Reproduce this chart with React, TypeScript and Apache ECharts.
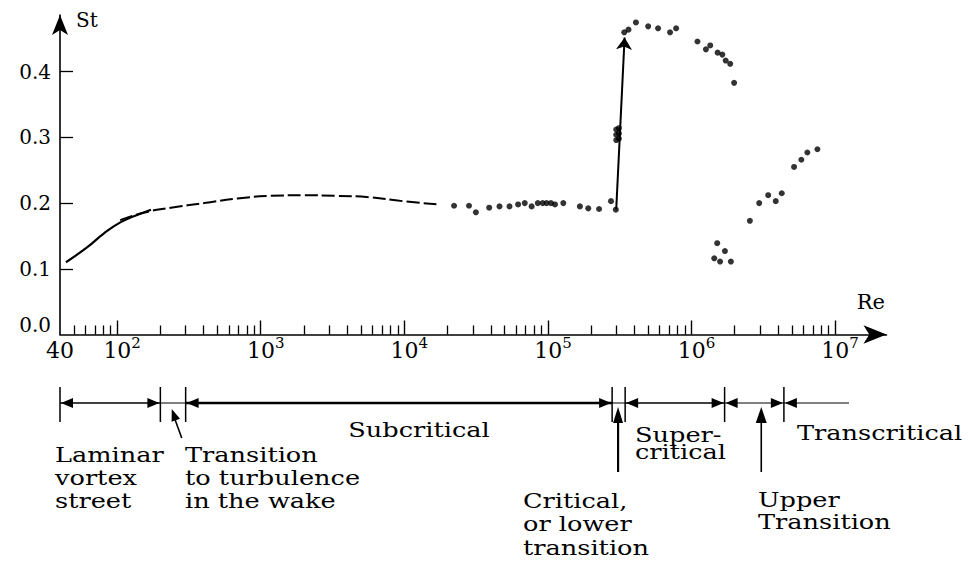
import React, { useEffect, useRef } from 'react';
import * as echarts from 'echarts';

// ---- data (Re, St) ----
const laminarCurve: [number, number][] = [
  [44, 0.11], [62, 0.133], [81, 0.154], [106, 0.171], [135, 0.181], [172, 0.19],
];
const subcriticalCurve: [number, number][] = [
  [105, 0.174], [150, 0.185], [237, 0.193], [404, 0.2], [689, 0.207], [1175, 0.211],
  [2000, 0.212], [3330, 0.211], [5690, 0.209], [9700, 0.203], [17500, 0.198],
];
const subcriticalPoints: [number, number][] = [
  [2.22e4, 0.196], [2.82e4, 0.196], [3.15e4, 0.186], [3.9e4, 0.193], [4.6e4, 0.195],
  [5.4e4, 0.195], [6.2e4, 0.198], [6.9e4, 0.2], [7.7e4, 0.195], [8.5e4, 0.2],
  [9.2e4, 0.2], [9.8e4, 0.2], [1.05e5, 0.2], [1.12e5, 0.198], [1.28e5, 0.2],
  [1.67e5, 0.195], [1.91e5, 0.192], [2.27e5, 0.191], [2.75e5, 0.203], [2.97e5, 0.19],
];
const criticalPoints: [number, number][] = [
  [2.99e5, 0.296], [2.99e5, 0.304], [2.99e5, 0.312], [3.12e5, 0.298], [3.12e5, 0.306], [3.12e5, 0.314],
];
const supercriticalPoints: [number, number][] = [
  [3.4e5, 0.46], [3.64e5, 0.464], [4.1e5, 0.475], [4.99e5, 0.469], [5.85e5, 0.466],
  [7.09e5, 0.46], [7.81e5, 0.466], [1.1e6, 0.446], [1.26e6, 0.434], [1.35e6, 0.44],
  [1.52e6, 0.429], [1.64e6, 0.426], [1.73e6, 0.417], [1.86e6, 0.412], [1.98e6, 0.383],
];
const upperTransitionPoints: [number, number][] = [
  [1.51e6, 0.139], [1.71e6, 0.127], [1.44e6, 0.116], [1.58e6, 0.111], [1.88e6, 0.111],
];
const transcriticalPoints: [number, number][] = [
  [2.55e6, 0.173], [2.96e6, 0.2], [3.42e6, 0.212], [3.86e6, 0.203], [4.25e6, 0.215],
  [5.18e6, 0.255], [5.82e6, 0.266], [6.41e6, 0.277], [7.53e6, 0.282],
];
const jumpArrow: [number, number][] = [[2.99e5, 0.19], [3.42e5, 0.452]];

// ---- axes ----
const xLabelValues = [40, 1e2, 1e3, 1e4, 1e5, 1e6, 1e7];
const xMajorTicks = [1e2, 1e3, 1e4, 1e5, 1e6, 1e7];
const xMinorMultipliers = [2, 3, 4, 5, 6, 7, 8, 9];
const xMinorTicks: number[] = [50, 60, 70, 80, 90];
[1e2, 1e3, 1e4, 1e5, 1e6].forEach((d) => xMinorMultipliers.forEach((m) => xMinorTicks.push(m * d)));
const yTickValues = [0.1, 0.2, 0.3, 0.4];
const yLabelValues = [0, 0.1, 0.2, 0.3, 0.4];

// ---- regime annotation (Re boundaries) ----
const regimeBounds = [40, 200, 300, 2.8e5, 3.45e5, 1.7e6, 4.4e6];
const regimeLineEnd = 1.25e7;

const FONT = 'DejaVu Serif';
const INK = '#000';

export default function App() {
  const ref = useRef<HTMLDivElement>(null);
  useEffect(() => {
    const chart = echarts.init(ref.current!, null, { renderer: 'svg' });
    const xCommon = { type: 'log', logBase: 10, min: 40, max: 2.28e7, position: 'bottom', gridIndex: 0 };
    chart.setOption({
      animation: false,
      backgroundColor: '#fff',
      grid: { left: 60, right: 81.5, top: 15, bottom: 226.5 },
      xAxis: [
        {
          ...xCommon,
          name: 'Re',
          nameLocation: 'end',
          nameGap: -1.5,
          nameTextStyle: { fontFamily: FONT, fontSize: 21, color: INK, align: 'right', verticalAlign: 'bottom', padding: [0, 0, 22, 0] },
          axisLine: { show: true, onZero: false, lineStyle: { color: INK, width: 1.6 }, symbol: ['none', 'arrow'], symbolSize: [14, 23] },
          axisTick: { show: true, inside: true, length: 9, customValues: xMinorTicks, lineStyle: { color: INK, width: 1.3 } },
          axisLabel: {
            show: true,
            customValues: xLabelValues,
            margin: 1,
            color: INK,
            fontFamily: FONT,
            fontSize: 22,
            formatter: (v: number) => {
              if (v < 50) return '{n|40}';
              const n = Math.round(Math.log10(v));
              return `{b|10}{sup|${n}}`;
            },
            rich: {
              n: { fontSize: 22, fontFamily: FONT, color: INK, lineHeight: 30 },
              b: { fontSize: 22, fontFamily: FONT, color: INK, lineHeight: 30, padding: [0, 0, 0, 10] },
              sup: { fontSize: 15, fontFamily: FONT, color: INK, lineHeight: 15, verticalAlign: 'top' },
            },
          },
          splitLine: { show: false },
        },
        {
          ...xCommon,
          axisLine: { show: false },
          axisTick: { show: true, inside: true, length: 14, customValues: xMajorTicks, lineStyle: { color: INK, width: 1.4 } },
          axisLabel: { show: false },
          splitLine: { show: false },
        },
      ],
      yAxis: {
        type: 'value',
        min: 0,
        max: 0.4863,
        name: 'St',
        nameLocation: 'end',
        nameGap: -5,
        nameTextStyle: { fontFamily: FONT, fontSize: 20, color: INK, align: 'left', verticalAlign: 'middle', padding: [0, 0, 0, 16] },
        axisLine: { show: true, onZero: false, lineStyle: { color: INK, width: 1.6 }, symbol: ['none', 'arrow'], symbolSize: [12, 20] },
        axisTick: { show: true, inside: true, length: 13, customValues: yTickValues, lineStyle: { color: INK, width: 1.3 } },
        axisLabel: {
          customValues: yLabelValues,
          margin: 9,
          color: INK,
          fontFamily: FONT,
          fontSize: 20,
          formatter: (v: number) => (v === 0 ? '{z|0.0}' : v.toFixed(1)),
          rich: { z: { fontSize: 20, fontFamily: FONT, color: INK, padding: [0, 0, 20, 0] } },
        },
        splitLine: { show: false },
      },
      series: [
        {
          type: 'line', name: 'Laminar', data: laminarCurve, smooth: true, symbol: 'none',
          lineStyle: { color: INK, width: 2.2 }, silent: true,
        },
        {
          type: 'line', name: 'Subcritical curve', data: subcriticalCurve, smooth: true, symbol: 'none',
          lineStyle: { color: INK, width: 2, type: [13, 4] }, silent: true,
        },
        {
          type: 'lines', coordinateSystem: 'cartesian2d', data: [{ coords: jumpArrow }],
          symbol: ['none', 'arrow'], symbolSize: [0, 12],
          lineStyle: { color: INK, width: 2, opacity: 1, curveness: 0 }, silent: true,
        },
        ...[subcriticalPoints, criticalPoints, supercriticalPoints, upperTransitionPoints, transcriticalPoints].map((d) => ({
          type: 'scatter', data: d, symbol: 'circle', symbolSize: 6,
          itemStyle: { color: INK }, silent: true,
        })),
      ],
    });

    // ---- regime annotation below the axis ----
    const X = (v: number) => chart.convertToPixel({ xAxisIndex: 0 }, v) as number;
    const g: any[] = [];
    const by = 403;
    const line = (x1: number, y1: number, x2: number, y2: number, w: number) =>
      g.push({ type: 'line', silent: true, shape: { x1, y1, x2, y2 }, style: { stroke: INK, lineWidth: w } });
    const head = (tx: number, ty: number, dx: number, dy: number, len: number, half: number) => {
      const px = -dy, py = dx;
      g.push({
        type: 'polygon', silent: true,
        shape: { points: [[tx, ty], [tx - dx * len + px * half, ty - dy * len + py * half], [tx - dx * len - px * half, ty - dy * len - py * half]] },
        style: { fill: INK },
      });
    };
    const b = regimeBounds.map(X);
    b.forEach((x) => line(x, 387, x, 422, 1.5));
    const spans: [number, number, number, boolean, boolean][] = [
      [b[0], b[1], 1.3, true, true],
      [b[1], b[2], 1, false, false],
      [b[2], b[3], 2.4, true, true],
      [b[3], b[4], 1, false, false],
      [b[4], b[5], 1.6, true, true],
      [b[5], b[6], 1, true, true],
      [b[6], X(regimeLineEnd), 1, true, false],
    ];
    spans.forEach(([x1, x2, w, hl, hr]) => {
      line(x1, by, x2, by, w);
      if (hl) head(x1 + 1, by, -1, 0, 12, 5);
      if (hr) head(x2 - 1, by, 1, 0, 12, 5);
    });
    // small diagonal arrow: transition to turbulence
    const tx = X(240);
    line(tx + 10, 438, tx + 2, 416, 1.6);
    head(tx, 409, -0.34, -0.94, 12, 4.5);
    // critical arrow
    const cx = X(3.08e5);
    line(cx, 472, cx, 420, 2.2);
    head(cx, 407, 0, -1, 16, 5);
    // upper transition arrow
    const ux = X(3.06e6);
    line(ux, 472, ux, 420, 1.6);
    head(ux, 407, 0, -1, 16, 5.5);

    const txt = (text: string, x: number, y: number, lh: number, align = 'left') =>
      g.push({
        type: 'text', silent: true, x, y, scaleX: 1.22,
        style: {
          text, fontSize: 21, fontFamily: FONT, fill: INK, lineHeight: lh,
          align, textAlign: align, verticalAlign: 'top', textVerticalAlign: 'top',
        },
      });
    txt('Laminar\nvortex\nstreet', 55, 443, 23);
    txt('Transition\nto turbulence\nin the wake', 185, 443, 23);
    txt('Subcritical', 419, 418, 23, 'center');
    txt('Super-\ncritical', 635, 426, 17);
    txt('Transcritical', 797, 421, 23);
    txt('Critical,\nor lower\ntransition', 523, 489, 23.5);
    txt('Upper\nTransition', 758, 489, 22);

    chart.setOption({ graphic: g });
    return () => chart.dispose();
  }, []);
  return (
    <div
      ref={ref}
      style={{ position: 'fixed', left: 0, top: 0, width: 968, height: 561, background: '#fff' }}
    />
  );
}
